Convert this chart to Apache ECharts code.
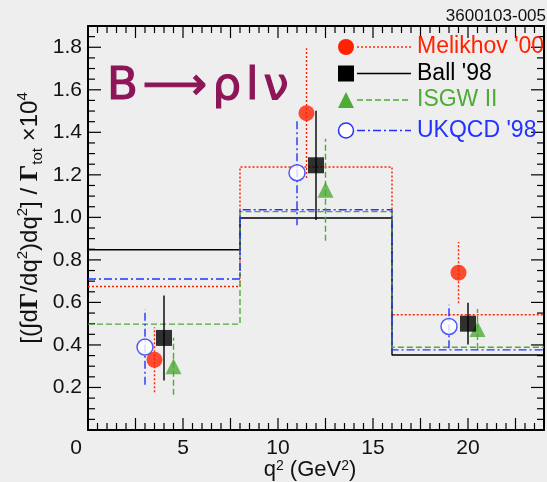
<!DOCTYPE html>
<html>
<head>
<meta charset="utf-8">
<script src="https://cdn.jsdelivr.net/npm/echarts@6/dist/echarts.min.js"></script>
<style>
  html, body { margin: 0; padding: 0; background: #eeeeee; }
  #chart { width: 547px; height: 482px; }
</style>
</head>
<body>
<div id="chart"></div>
<script>
// q^2 bin edges (GeV^2) shared by all model histograms
const binEdges = [0, 8, 16, 24];

// Model names
const modelNames = ["Melikhov '00", "Ball '98", "ISGW II", "UKQCD '98"];

// Binned partial rates per model (x 10^4)
const melikhovBins = [0.675, 1.237, 0.542];
const ballBins     = [0.848, 0.997, 0.353];
const isgwBins     = [0.498, 1.027, 0.389];
const ukqcdBins    = [0.710, 1.036, 0.377];

// Points with uncertainties, one per bin, slightly offset in q^2
const melikhovX   = [3.5, 11.5, 19.5];
const melikhovY   = [0.33, 1.49, 0.74];
const melikhovErr = [0.153, 0.305, 0.144];

const ballX   = [4, 12, 20];
const ballY   = [0.433, 1.245, 0.50];
const ballErr = [0.20, 0.257, 0.098];

const isgwX   = [4.5, 12.5, 20.5];
const isgwY   = [0.30, 1.13, 0.475];
const isgwErr = [0.134, 0.24, 0.094];

const ukqcdX   = [3, 11, 19];
const ukqcdY   = [0.39, 1.21, 0.487];
const ukqcdErr = [0.177, 0.247, 0.102];

// Tick labels
const xTickLabels = ['0', '5', '10', '15', '20'];
const yTickLabels = ['0.2', '0.4', '0.6', '0.8', '1.0', '1.2', '1.4', '1.6', '1.8'];

const RED = '#ff2200', BLACK = '#000000', GREEN = '#4dab36', BLUE = '#2233ff';
const FONT = 'Liberation Sans, Arial, Helvetica, sans-serif';

const X_RANGE = [0, 24];
const Y_RANGE = [0, 1.9];
const GRID = { left: 88, top: 26, width: 462, height: 404 };

// Tick spacing on the frame (major / minor)
const X_MAJOR = 2.5, X_MINOR = 0.5;
const Y_MAJOR = 0.2, Y_MINOR = 0.05;

const DASH = {
  melikhov: [2, 2],
  ball: 'solid',
  isgw: [6, 3],
  ukqcd: [8, 3, 2, 3]
};

function histSeries(name, bins, color, dash, z) {
  const data = binEdges.map((e, i) => [e, bins[Math.min(i, bins.length - 1)]]);
  return {
    type: 'line', name: name + ' hist', data, step: 'end',
    showSymbol: false, silent: true, z,
    lineStyle: { color, width: 1.4, type: dash }
  };
}

function errSeries(name, xs, ys, errs, color, dash, z) {
  return {
    type: 'custom', name: name + ' err', silent: true, z,
    data: xs.map((x, i) => [x, ys[i] - errs[i], ys[i] + errs[i]]),
    encode: { x: 0, y: [1, 2] },
    renderItem: (params, api) => {
      const p0 = api.coord([api.value(0), api.value(1)]);
      const p1 = api.coord([api.value(0), api.value(2)]);
      return {
        type: 'line',
        shape: { x1: p0[0], y1: p0[1], x2: p1[0], y2: p1[1] },
        style: { stroke: color, lineWidth: 1.4, lineDash: dash === 'solid' ? null : dash }
      };
    }
  };
}

function pointSeries(name, xs, ys, symbol, itemStyle, z) {
  return {
    type: 'scatter', name, symbol, symbolSize: 16, z, silent: true,
    data: xs.map((x, i) => [x, ys[i]]),
    itemStyle
  };
}

// Values on [lo, hi] in steps of `step`
function stepsOf(range, step) {
  const n = Math.round((range[1] - range[0]) / step);
  const out = [];
  for (let i = 0; i <= n; i++) out.push(+(range[0] + i * step).toFixed(4));
  return out;
}
function isMultiple(v, step) {
  return Math.abs(v / step - Math.round(v / step)) < 1e-6;
}

const frameLine = { show: true, onZero: false, lineStyle: { color: '#000', width: 2 } };

function frameX(position, labels) {
  return {
    type: 'value', position, min: X_RANGE[0], max: X_RANGE[1], interval: X_MAJOR,
    axisLine: frameLine, axisTick: { show: false }, splitLine: { show: false },
    axisLabel: labels ? {
      margin: 8, fontSize: 21, color: '#111', fontFamily: FONT,
      formatter: v => {
        const s = String(Math.round(v * 10) / 10);
        if (!xTickLabels.includes(s)) return '';
        return s === '0' ? '{z|0}' : s;
      },
      rich: { z: { padding: [0, 24, 0, 0], fontSize: 21, color: '#111', fontFamily: FONT } }
    } : { show: false }
  };
}
function frameY(position, labels) {
  return {
    type: 'value', position, min: Y_RANGE[0], max: Y_RANGE[1], interval: Y_MAJOR,
    axisLine: frameLine, axisTick: { show: false }, splitLine: { show: false },
    axisLabel: labels ? {
      margin: 6, fontSize: 21, color: '#111', fontFamily: FONT,
      formatter: v => {
        const s = (Math.round(v * 100) / 100).toFixed(1);
        return yTickLabels.includes(s) ? s : '';
      }
    } : { show: false }
  };
}

const chart = echarts.init(document.getElementById('chart'), null, { renderer: 'canvas' });

chart.setOption({
  animation: false,
  backgroundColor: '#eeeeee',
  grid: Object.assign({ containLabel: false }, GRID),
  xAxis: [frameX('bottom', true), frameX('top', false)],
  yAxis: [frameY('left', true), frameY('right', false)],
  series: [
    histSeries(modelNames[0], melikhovBins, RED, DASH.melikhov, 2),
    histSeries(modelNames[1], ballBins, BLACK, DASH.ball, 2),
    histSeries(modelNames[2], isgwBins, GREEN, DASH.isgw, 2),
    histSeries(modelNames[3], ukqcdBins, BLUE, DASH.ukqcd, 2),

    errSeries(modelNames[3], ukqcdX, ukqcdY, ukqcdErr, BLUE, DASH.ukqcd, 3),
    pointSeries(modelNames[3], ukqcdX, ukqcdY, 'circle', { color: '#fff', borderColor: BLUE, borderWidth: 1.5 }, 4),

    errSeries(modelNames[0], melikhovX, melikhovY, melikhovErr, RED, DASH.melikhov, 5),
    pointSeries(modelNames[0], melikhovX, melikhovY, 'circle', { color: RED }, 6),

    errSeries(modelNames[2], isgwX, isgwY, isgwErr, GREEN, DASH.isgw, 7),
    pointSeries(modelNames[2], isgwX, isgwY, 'triangle', { color: GREEN }, 8),

    errSeries(modelNames[1], ballX, ballY, ballErr, BLACK, DASH.ball, 9),
    pointSeries(modelNames[1], ballX, ballY, 'rect', { color: BLACK }, 10)
  ]
});

// Axis value -> pixel, via the chart's axes, with the grid's linear mapping as fallback
function toPx(v) {
  let p = chart.convertToPixel({ xAxisIndex: 0 }, v);
  if (Array.isArray(p)) p = p[0];
  if (typeof p !== 'number' || !isFinite(p)) {
    p = GRID.left + (v - X_RANGE[0]) / (X_RANGE[1] - X_RANGE[0]) * GRID.width;
  }
  return p;
}
function toPy(v) {
  let p = chart.convertToPixel({ yAxisIndex: 0 }, v);
  if (Array.isArray(p)) p = p[1];
  if (typeof p !== 'number' || !isFinite(p)) {
    p = GRID.top + GRID.height - (v - Y_RANGE[0]) / (Y_RANGE[1] - Y_RANGE[0]) * GRID.height;
  }
  return p;
}

// Inward-pointing frame ticks on all four sides
const tickEls = [];
(function buildTicks() {
  const yb = toPy(Y_RANGE[0]), yt = toPy(Y_RANGE[1]);
  const xl = toPx(X_RANGE[0]), xr = toPx(X_RANGE[1]);
  const seg = (x1, y1, x2, y2) => ({
    type: 'line',
    shape: { x1: x1, y1: y1, x2: x2, y2: y2 },
    style: { stroke: '#000000', lineWidth: 1.2 }
  });
  stepsOf(X_RANGE, X_MINOR).forEach(v => {
    const len = isMultiple(v, X_MAJOR) ? 12 : 7;
    const x = toPx(v);
    tickEls.push(seg(x, yb, x, yb - len));
    tickEls.push(seg(x, yt, x, yt + len));
  });
  stepsOf(Y_RANGE, Y_MINOR).forEach(v => {
    const len = isMultiple(v, Y_MAJOR) ? 13 : 7;
    const y = toPy(v);
    tickEls.push(seg(xl, y, xl + len, y));
    tickEls.push(seg(xr, y, xr - len, y));
  });
})();

// Legend rows: marker, line sample and coloured name
const legendRows = [
  { y: 47,    color: RED,   dash: DASH.melikhov, marker: 'dot' },
  { y: 73.5,  color: BLACK, dash: DASH.ball,     marker: 'square' },
  { y: 100,   color: GREEN, dash: DASH.isgw,     marker: 'triangle' },
  { y: 130.5, color: BLUE,  dash: DASH.ukqcd,    marker: 'ring' }
];

const legendEls = [];
legendRows.forEach((r, i) => {
  const mx = 346;
  if (r.marker === 'dot') {
    legendEls.push({ type: 'circle', shape: { cx: mx, cy: r.y, r: 8 }, style: { fill: r.color } });
  } else if (r.marker === 'square') {
    legendEls.push({ type: 'rect', shape: { x: mx - 8, y: r.y - 8, width: 16, height: 16 }, style: { fill: r.color } });
  } else if (r.marker === 'triangle') {
    legendEls.push({ type: 'polygon', shape: { points: [[mx, r.y - 8], [mx + 8, r.y + 8], [mx - 8, r.y + 8]] }, style: { fill: r.color } });
  } else {
    legendEls.push({ type: 'circle', shape: { cx: mx, cy: r.y, r: 7.5 }, style: { fill: '#fff', stroke: r.color, lineWidth: 1.5 } });
  }
  legendEls.push({
    type: 'line', shape: { x1: 357, y1: r.y, x2: 411, y2: r.y },
    style: { stroke: r.color, lineWidth: 1.4, lineDash: r.dash === 'solid' ? null : r.dash }
  });
  legendEls.push({
    type: 'text', x: 417, y: r.y,
    style: { text: modelNames[i], fill: r.color, font: '23px ' + FONT,
             align: 'left', verticalAlign: 'middle', textAlign: 'left', textVerticalAlign: 'middle' }
  });
});

chart.setOption({
  graphic: [
    ...tickEls,
    // figure id at top right
    { type: 'text', x: 546, y: 16,
      style: { text: '3600103-005', fill: '#111', font: '17px ' + FONT,
               align: 'right', verticalAlign: 'middle', textAlign: 'right', textVerticalAlign: 'middle' } },
    // decay label
    { type: 'text', x: 107, y: 87,
      style: { text: '{a|B}{a|\u27F6}{a|\u03C1}{a|l}\u03BD', fill: '#8c1657', font: '45px DejaVu Sans',
               stroke: '#8c1657', lineWidth: 1.2,
               align: 'left', verticalAlign: 'middle', textAlign: 'left', textVerticalAlign: 'middle',
               rich: { a: { padding: [0, 5, 0, 0], fill: '#8c1657', stroke: '#8c1657', lineWidth: 1.2,
                            fontFamily: 'DejaVu Sans', fontSize: 45 } } } },
    // y axis title
    { type: 'text', x: 30, y: 218, rotation: Math.PI / 2,
      style: {
        text: '[(\u222Bd{G|\u0393}/dq{s|2})dq{s|2}] / {G|\u0393}{b|tot} \u00D710{s|4}',
        fill: '#111', font: '24px ' + FONT,
        align: 'center', verticalAlign: 'middle', textAlign: 'center', textVerticalAlign: 'middle',
        rich: {
          G: { fontFamily: 'Liberation Serif', fontWeight: 'bold', fontSize: 26, fill: '#111', lineHeight: 30 },
          s: { fontSize: 15, fill: '#111', fontFamily: FONT, verticalAlign: 'top', lineHeight: 15 },
          b: { fontSize: 15, fill: '#111', fontFamily: FONT, verticalAlign: 'bottom', lineHeight: 15 }
        }
      } },
    // x axis title
    { type: 'text', x: 310, y: 470,
      style: {
        text: 'q{s|2} (GeV{s|2})',
        fill: '#111', font: '22px ' + FONT,
        align: 'center', verticalAlign: 'middle', textAlign: 'center', textVerticalAlign: 'middle',
        rich: {
          s: { fontSize: 14, fill: '#111', fontFamily: FONT, verticalAlign: 'top', lineHeight: 14 }
        }
      } },
    ...legendEls
  ]
});
</script>
</body>
</html>
